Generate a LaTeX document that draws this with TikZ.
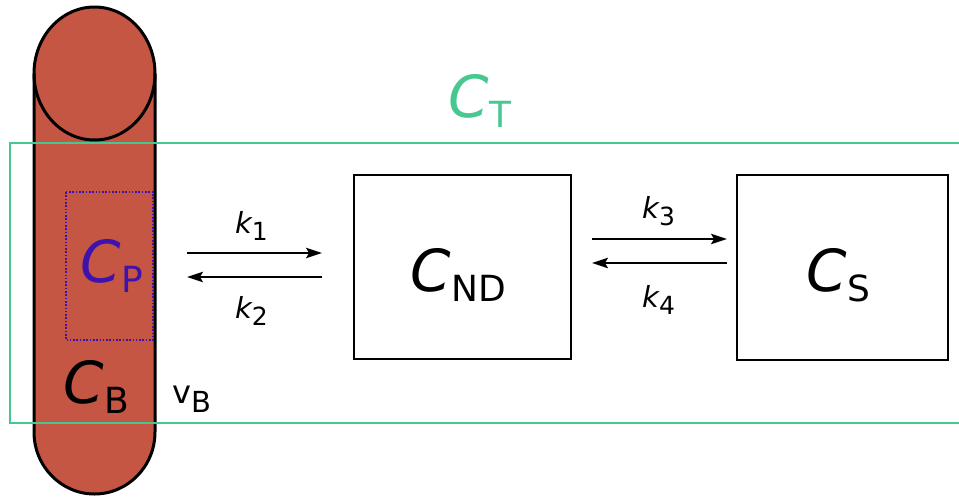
\documentclass[tikz,border=0pt]{standalone}
\usepackage{fontspec}
\setmainfont{DejaVu Sans}
\usetikzlibrary{arrows.meta}
\definecolor{blood}{RGB}{197,86,68}
\definecolor{tgreen}{RGB}{72,200,145}
\definecolor{pblue}{RGB}{62,18,172}
\newcommand{\conc}[1]{{\fontsize{58}{58}\selectfont\itshape C}\kern1pt\raisebox{-10pt}{\fontsize{36}{36}\selectfont #1}}
\newcommand{\rate}[1]{{\fontsize{29}{29}\selectfont\itshape k}\raisebox{-7pt}{\fontsize{25}{25}\selectfont #1}}
\tikzset{
  cbox/.style={draw=black, line width=2.5pt, minimum width=217pt, minimum height=184pt, inner sep=0pt},
  lbl/.style={inner sep=0pt, anchor=base west},
  rarrow/.style={line width=1.6pt, -{Stealth[length=16pt,width=10.5pt,inset=3pt]}},
}
\begin{document}
\begin{tikzpicture}[x=1pt,y=-1pt]
\useasboundingbox (0,0) rectangle (959,496);
% blood vessel cylinder
\fill[blood] (34,73.5) -- (34,432) arc[start angle=180,end angle=0,x radius=60.5,y radius=62] -- (155,73.5) -- cycle;
\fill[blood] (94.5,73.5) ellipse [x radius=60.5, y radius=66.5];
\draw[line width=3pt] (34,73.5) -- (34,432) arc[start angle=180,end angle=0,x radius=60.5,y radius=62] -- (155,73.5);
\draw[line width=3pt] (94.5,73.5) ellipse [x radius=60.5, y radius=66.5];
% plasma dotted box
\draw[pblue, line width=1.6pt, dash pattern=on 1.6pt off 1.7pt] (66,192) rectangle (153,340);
\node[lbl, text=pblue] (cp) at (80,282) {\conc{P}};
\node[lbl] (cb) at (63,403) {\conc{B}};
\node[lbl] (vb) at (172,403) {{\fontsize{32}{32}\selectfont v}\raisebox{-9pt}{\fontsize{29}{29}\selectfont B}};
% tissue region
\draw[tgreen, line width=2.6pt] (962,143) -- (10,143) -- (10,423) -- (962,423);
\node[lbl, text=tgreen] (ct) at (448,117) {\conc{T}};
% compartments
\node[cbox] (nd) at (462.5,267) {};
\node[cbox, minimum width=211pt, minimum height=185pt] (cs) at (842.5,267.5) {};
\node[lbl] (ndl) at (410,291) {\conc{ND}};
\node[lbl] (csl) at (806,291) {\conc{S}};
% arrows
\coordinate (a1s) at (187,253); \coordinate (a1e) at (322,253);
\coordinate (a2s) at (322,277); \coordinate (a2e) at (187,277);
\coordinate (a3s) at (592,239); \coordinate (a3e) at (727,239);
\coordinate (a4s) at (727,263); \coordinate (a4e) at (592,263);
\draw[rarrow] (a1s) -- (a1e);
\draw[rarrow] (a2s) -- (a2e);
\draw[rarrow] (a3s) -- (a3e);
\draw[rarrow] (a4s) -- (a4e);
\node[lbl] (k1) at (235,233) {\rate{1}};
\node[lbl] (k2) at (235,318) {\rate{2}};
\node[lbl] (k3) at (642,218) {\rate{3}};
\node[lbl] (k4) at (642,307) {\rate{4}};
\end{tikzpicture}
\end{document}
